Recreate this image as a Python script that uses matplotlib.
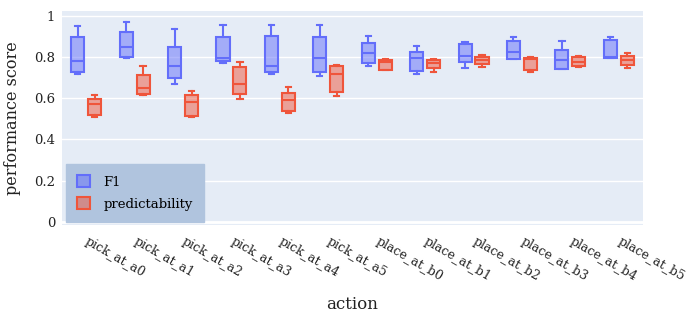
import matplotlib
matplotlib.use("Agg")
import matplotlib.pyplot as plt
from matplotlib.patches import Patch
from matplotlib.colors import to_rgba
import numpy as np

plt.rcParams['font.family'] = ['DejaVu Serif']

categories = ["pick_at_a0", "pick_at_a1", "pick_at_a2", "pick_at_a3", "pick_at_a4", "pick_at_a5",
              "place_at_b0", "place_at_b1", "place_at_b2", "place_at_b3", "place_at_b4", "place_at_b5"]

f1_low  = [0.715, 0.793, 0.670, 0.772, 0.715, 0.709, 0.754, 0.719, 0.748, 0.788, 0.739, 0.794]
f1_q1   = [0.725, 0.800, 0.700, 0.779, 0.727, 0.728, 0.769, 0.730, 0.777, 0.790, 0.741, 0.797]
f1_med  = [0.779, 0.847, 0.756, 0.795, 0.754, 0.793, 0.818, 0.795, 0.806, 0.823, 0.787, 0.798]
f1_q3   = [0.896, 0.920, 0.849, 0.899, 0.902, 0.896, 0.868, 0.823, 0.863, 0.875, 0.834, 0.880]
f1_high = [0.949, 0.971, 0.937, 0.954, 0.953, 0.956, 0.900, 0.852, 0.871, 0.899, 0.876, 0.897]

pred_low  = [0.510, 0.613, 0.507, 0.598, 0.528, 0.611, 0.736, 0.728, 0.749, 0.728, 0.752, 0.745]
pred_q1   = [0.519, 0.620, 0.512, 0.620, 0.538, 0.629, 0.738, 0.745, 0.764, 0.738, 0.754, 0.763]
pred_med  = [0.571, 0.649, 0.583, 0.668, 0.592, 0.715, 0.775, 0.772, 0.785, 0.790, 0.777, 0.785]
pred_q3   = [0.597, 0.714, 0.613, 0.753, 0.627, 0.758, 0.785, 0.786, 0.801, 0.795, 0.800, 0.806]
pred_high = [0.616, 0.758, 0.636, 0.777, 0.655, 0.761, 0.790, 0.790, 0.808, 0.798, 0.803, 0.818]

series = [
    ("F1", "#636EFA", f1_low, f1_q1, f1_med, f1_q3, f1_high, -0.175),
    ("predictability", "#EF553B", pred_low, pred_q1, pred_med, pred_q3, pred_high, 0.175),
]

bg = "#E5ECF6"
fig = plt.figure(figsize=(7, 3.25), dpi=100)
ax = fig.add_axes([62/700, 1 - 225/325, (643-62)/700, (225-11)/325])
ax.set_facecolor(bg)

x = np.arange(len(categories))
width = 0.27
handles = []
for name, color, lo, q1, med, q3, hi, off in series:
    stats = [dict(whislo=a, q1=b, med=c, q3=d, whishi=e, fliers=[])
             for a, b, c, d, e in zip(lo, q1, med, q3, hi)]
    fill = to_rgba(color, 0.5)
    ax.bxp(stats, positions=x + off, widths=width, capwidths=width * 0.4,
           showfliers=False, patch_artist=True, manage_ticks=False,
           boxprops=dict(facecolor=fill, edgecolor=color, linewidth=1.5),
           medianprops=dict(color=color, linewidth=1.5),
           whiskerprops=dict(color=color, linewidth=1.5),
           capprops=dict(color=color, linewidth=1.5), zorder=3)
    handles.append(Patch(facecolor=fill, edgecolor=color, linewidth=1.5, label=name))

ax.set_xlim(-0.5, len(categories) - 0.5)
ax.set_ylim(-0.016, 1.023)
ax.set_yticks([0, 0.2, 0.4, 0.6, 0.8, 1])
ax.set_yticklabels(["0", "0.2", "0.4", "0.6", "0.8", "1"], fontsize=9.5)
ax.set_xticks(x)
ax.set_xticklabels(categories, fontsize=9, rotation=-30, ha="left", va="center",
                   rotation_mode="anchor")
ax.tick_params(axis="both", length=0, pad=5, colors="#222222")
ax.tick_params(axis="x", pad=11)
ax.grid(axis="y", color="white", linewidth=1, zorder=0)
ax.set_axisbelow(True)
ax.axhline(0, color="white", linewidth=2, zorder=1)
for s in ax.spines.values():
    s.set_visible(False)

ax.set_ylabel("performance score", fontsize=11.5, color="#222222", labelpad=9)
ax.set_xlabel("action", fontsize=12, color="#222222", labelpad=9)

leg = ax.legend(handles=handles, loc="lower left",
                bbox_to_anchor=(4/581, 3/214), borderaxespad=0,
                fontsize=9.5, frameon=True, fancybox=False,
                facecolor="#B0C4DE", edgecolor="#B0C4DE", framealpha=1,
                handlelength=1.0, handleheight=1.0, handletextpad=1.0,
                borderpad=0.85, labelspacing=0.65)
leg.set_zorder(5)

fig.savefig("out.png", dpi=100)
